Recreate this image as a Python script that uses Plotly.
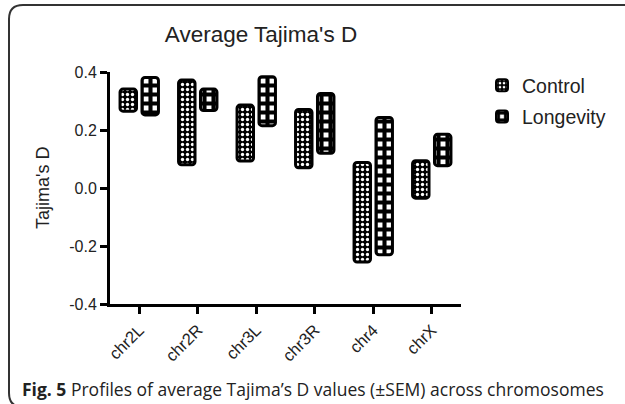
import plotly.graph_objects as go

categories = ["chr2L", "chr2R", "chr3L", "chr3R", "chr4", "chrX"]
control_low = [0.265, 0.080, 0.093, 0.070, -0.255, -0.035]
control_high = [0.341, 0.372, 0.286, 0.271, 0.088, 0.094]
longevity_low = [0.252, 0.267, 0.215, 0.120, -0.230, 0.077]
longevity_high = [0.381, 0.341, 0.384, 0.326, 0.243, 0.185]
y_ticks = [-0.4, -0.2, 0.0, 0.2, 0.4]
y_tick_text = ["-0.4", "-0.2", "0.0", "0.2", "0.4"]

W, H = 625, 404
ML, MR, MT, MB = 110, 164, 72, 100
PW, PH = W - ML - MR, H - MT - MB


def px(x):
    return (x - ML) / PW


def py(y):
    return (H - MB - y) / PH


FONT = "Liberation Sans, Arial, sans-serif"

fig = go.Figure()
fig.add_trace(go.Bar(
    x=categories,
    y=[h - l for h, l in zip(control_high, control_low)],
    base=control_low,
    name="Control",
    legendgroup="control",
    marker=dict(
        color="black",
        line=dict(color="black", width=3),
        pattern=dict(shape=".", fgcolor="white", bgcolor="black", size=5, solidity=0.35, fillmode="replace"),
        cornerradius=3,
    ),
))
fig.add_trace(go.Bar(
    x=categories,
    y=[h - l for h, l in zip(longevity_high, longevity_low)],
    base=longevity_low,
    name="Longevity",
    legendgroup="longevity",
    marker=dict(
        color="black",
        line=dict(color="black", width=3),
        pattern=dict(shape="+", fgcolor="black", bgcolor="white", size=9, solidity=0.7, fillmode="replace"),
        cornerradius=3,
    ),
))

# rounded frame around the figure
x0, y0, r = 9, 5, 14
x1, y1 = 645, 407
frame = (f"M {px(x1)},{py(y0)} L {px(x0 + r)},{py(y0)} "
         f"Q {px(x0)},{py(y0)} {px(x0)},{py(y0 + r)} "
         f"L {px(x0)},{py(y1 - r)} Q {px(x0)},{py(y1)} {px(x0 + r)},{py(y1)} "
         f"L {px(x1)},{py(y1)}")

fig.update_layout(
    width=W, height=H,
    margin=dict(l=ML, r=MR, t=MT, b=MB, pad=0),
    paper_bgcolor="white", plot_bgcolor="white",
    barmode="group", bargap=0.25, bargroupgap=0.25,
    font=dict(family=FONT, color="#222222", size=16),
    title=dict(text="Average Tajima's D", x=261 / W, xanchor="center",
               y=1 - 34 / H, yanchor="middle", xref="container", yref="container",
               font=dict(size=22.5, family=FONT, color="#222222")),
    showlegend=True,
    legend=dict(x=px(482), xanchor="left", y=py(66), yanchor="top",
                font=dict(size=19.5, family=FONT, color="#222222"),
                bgcolor="rgba(0,0,0,0)", traceorder="grouped", tracegroupgap=3,
                itemsizing="constant"),
    xaxis=dict(range=[-0.5, 5.5], showline=True, linecolor="black", linewidth=3,
               ticks="outside", ticklen=7, tickwidth=3, tickcolor="black",
               tickangle=-45, tickfont=dict(size=16.5, family=FONT, color="#222222"),
               showgrid=False, zeroline=False, fixedrange=True),
    yaxis=dict(range=[-0.4, 0.4], tickvals=y_ticks, ticktext=y_tick_text,
               showline=True, linecolor="black", linewidth=3,
               ticks="outside", ticklen=7, tickwidth=3, tickcolor="black",
               tickfont=dict(size=16, family=FONT, color="#222222"),
               showgrid=False, zeroline=False, fixedrange=True),
    shapes=[dict(type="path", xref="paper", yref="paper", path=frame,
                 line=dict(color="#333333", width=2), fillcolor="rgba(0,0,0,0)")],
    annotations=[
        dict(text="Tajima's D", xref="paper", yref="paper", x=px(43), y=0.5,
             textangle=-90, showarrow=False, xanchor="center", yanchor="middle",
             font=dict(size=18, family=FONT, color="#222222")),
        dict(text="<b>Fig. 5</b> Profiles of average Tajima’s D values (±SEM) across chromosomes",
             xref="paper", yref="paper", x=px(20), y=py(389), xanchor="left", yanchor="middle",
             showarrow=False, font=dict(size=17.5, family="Open Sans, sans-serif", color="#222222")),
    ],
)

fig.write_html(
    "out.html",
    config={"displayModeBar": False},
    post_script="document.body.style.margin='0';document.body.style.padding='0';document.body.style.overflow='hidden';",
)
